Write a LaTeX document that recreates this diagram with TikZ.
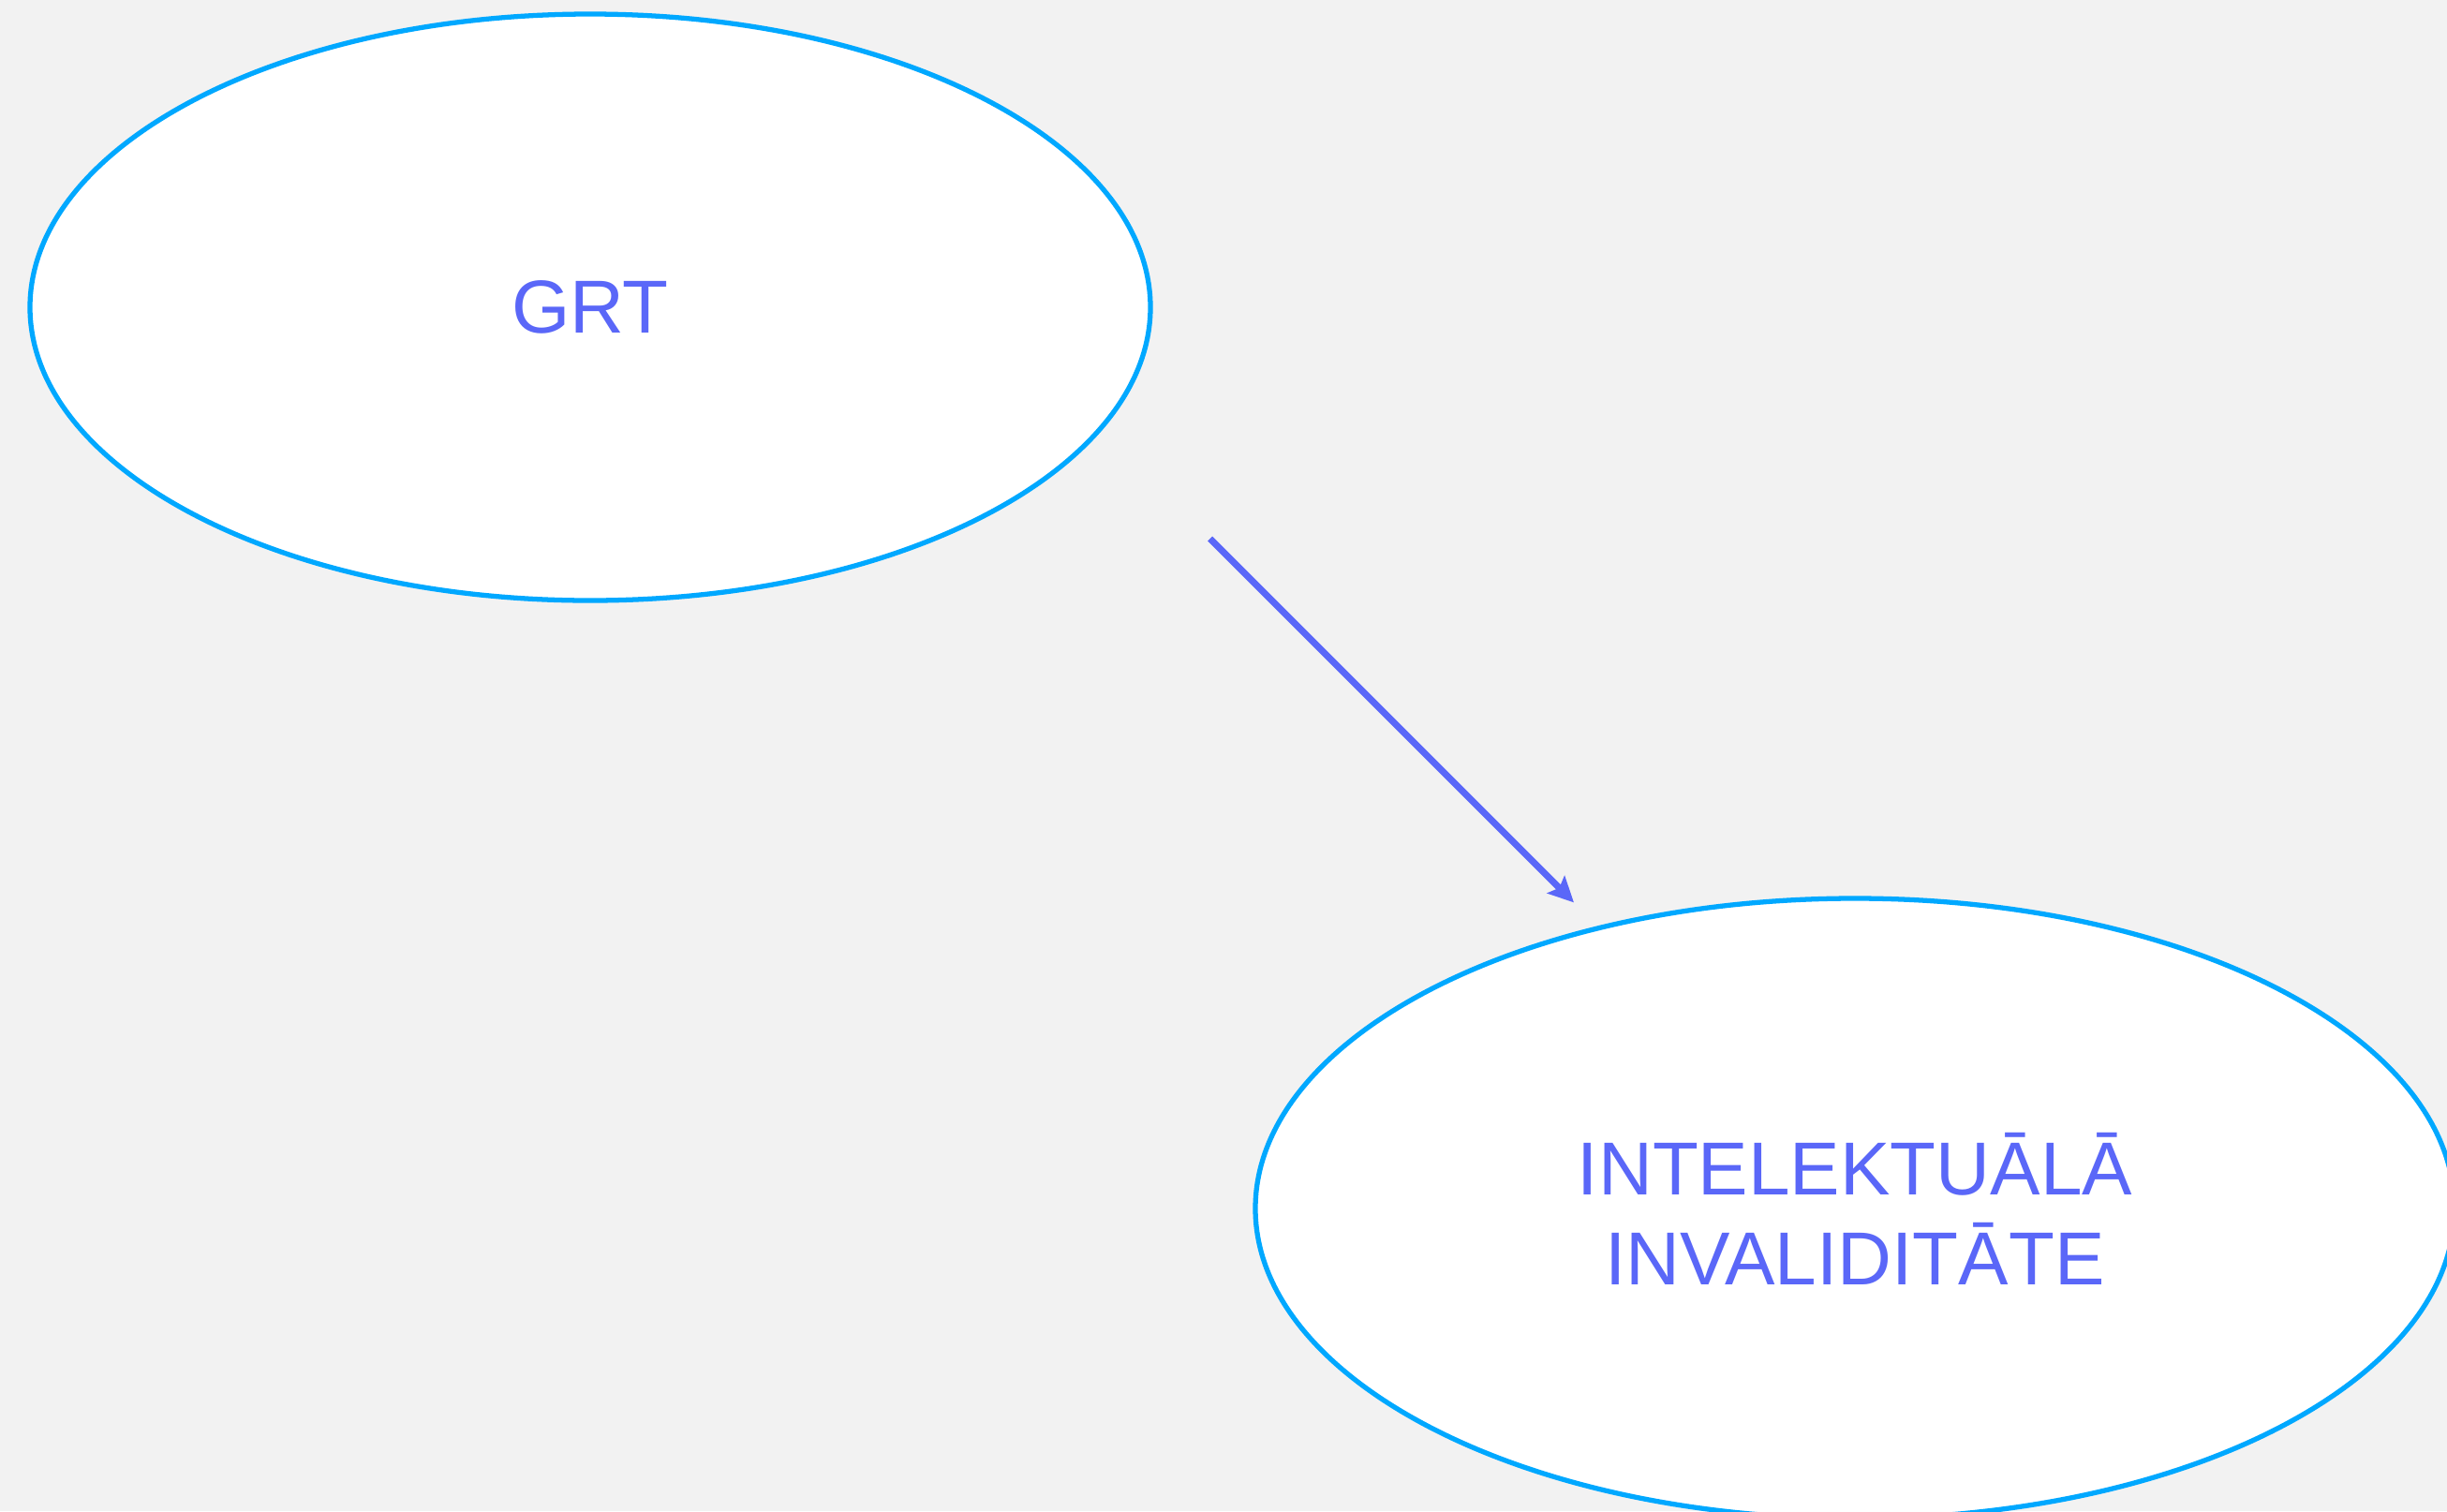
\documentclass[tikz,border=0pt]{standalone}
\usepackage{fontspec}
\setmainfont{Liberation Sans}
\usetikzlibrary{arrows.meta, shapes.geometric}
\definecolor{bg}{rgb}{0.949,0.949,0.949}
\definecolor{rim}{rgb}{0,0.659,1}
\definecolor{ink}{rgb}{0.353,0.404,0.973}

\begin{document}
\begin{tikzpicture}[
		bubble/.style={draw=rim, line width=1.5pt, fill=white, ellipse, inner sep=0pt, align=center, text=ink, font=\fontsize{22.8}{27.3}\selectfont},
		arrow/.style={draw=ink, line width=2pt, -{Stealth[length=0.27cm,width=0.26cm,inset=0.05cm]}}
	]

	\useasboundingbox (0, 0) rectangle (26.12, -16.13);
	\fill[bg] (0, 0) rectangle (26.12, -16.13);

	% ellipses
	\node[bubble, minimum width=11.96cm, minimum height=6.26cm] (grt) at (6.30, -3.28) {GRT};
	\node[bubble, minimum width=12.80cm, minimum height=6.62cm] (inv) at (19.80, -12.90) {INTELEKTUĀLĀ\\INVALIDITĀTE};

	% arrow
	\coordinate (grt-out) at ([shift={(0.61, -2.47)}]grt.east);
	\coordinate (inv-in) at ([shift={(-3.00, -0.07)}]inv.north);
	\draw[arrow] (grt-out) -- (inv-in);

\end{tikzpicture}
\end{document}
